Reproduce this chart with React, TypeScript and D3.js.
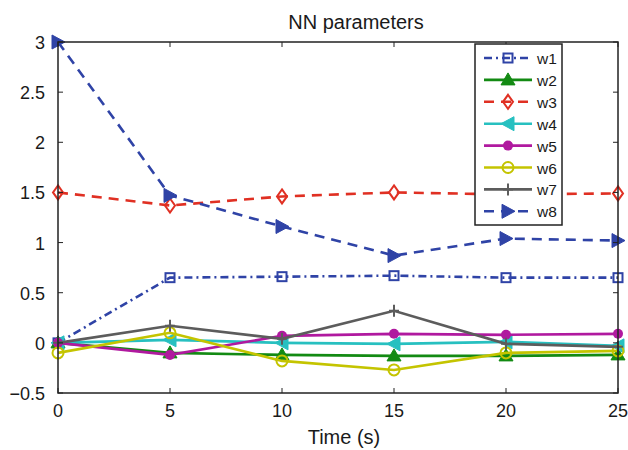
import * as d3 from "d3";

const times = [0, 5, 10, 15, 20, 25];
const w1 = [0, 0.65, 0.66, 0.67, 0.65, 0.65];
const w2 = [0, -0.1, -0.12, -0.13, -0.13, -0.12];
const w3 = [1.5, 1.37, 1.46, 1.5, 1.48, 1.49];
const w4 = [0, 0.03, 0, -0.01, 0.01, -0.03];
const w5 = [0, -0.12, 0.07, 0.09, 0.08, 0.09];
const w6 = [-0.1, 0.1, -0.18, -0.27, -0.1, -0.08];
const w7 = [0, 0.17, 0.04, 0.32, -0.01, -0.04];
const w8 = [3.0, 1.47, 1.16, 0.87, 1.04, 1.02];
const xTicks = [0, 5, 10, 15, 20, 25];
const yTicks = [-0.5, 0, 0.5, 1, 1.5, 2, 2.5, 3];

type Marker = "square" | "triUp" | "diamond" | "triLeft" | "dot" | "circle" | "plus" | "triRight";
const series: { name: string; values: number[]; color: string; dash: string; marker: Marker }[] = [
  { name: "w1", values: w1, color: "#2f43a6", dash: "8 4 2 4", marker: "square" },
  { name: "w2", values: w2, color: "#138a13", dash: "", marker: "triUp" },
  { name: "w3", values: w3, color: "#e03023", dash: "10 7", marker: "diamond" },
  { name: "w4", values: w4, color: "#27c0c0", dash: "", marker: "triLeft" },
  { name: "w5", values: w5, color: "#b0199f", dash: "", marker: "dot" },
  { name: "w6", values: w6, color: "#c4c400", dash: "", marker: "circle" },
  { name: "w7", values: w7, color: "#5c5c5c", dash: "", marker: "plus" },
  { name: "w8", values: w8, color: "#2f43a6", dash: "10 7", marker: "triRight" },
];

const W = 628, H = 450, M = { t: 42, r: 10, b: 57, l: 58 };
const FONT = "'Liberation Sans', Arial, Helvetica, sans-serif";

function MarkerShape({ kind, x, y, color }: { kind: Marker; x: number; y: number; color: string }) {
  const s = 6;
  switch (kind) {
    case "square":
      return <rect x={x - 4.5} y={y - 4.5} width={9} height={9} fill="none" stroke={color} strokeWidth={2} />;
    case "triUp":
      return <path d={`M${x},${y - s - 1}L${x + s + 1},${y + s - 1}L${x - s - 1},${y + s - 1}Z`} fill={color} stroke={color} strokeWidth={1} />;
    case "diamond":
      return <path d={`M${x},${y - 7}L${x + 5},${y}L${x},${y + 7}L${x - 5},${y}Z`} fill="none" stroke={color} strokeWidth={2} />;
    case "triLeft":
      return <path d={`M${x - s - 1},${y}L${x + s},${y - s - 1}L${x + s},${y + s + 1}Z`} fill={color} stroke={color} strokeWidth={1} />;
    case "dot":
      return <circle cx={x} cy={y} r={5} fill={color} />;
    case "circle":
      return <circle cx={x} cy={y} r={5.5} fill="none" stroke={color} strokeWidth={2} />;
    case "plus":
      return <path d={`M${x - 5},${y}L${x + 5},${y}M${x},${y - 6}L${x},${y + 6}`} stroke={color} strokeWidth={2} />;
    case "triRight":
      return <path d={`M${x + s + 1},${y}L${x - s},${y - s - 1}L${x - s},${y + s + 1}Z`} fill={color} stroke={color} strokeWidth={1} />;
  }
}

export default function App() {
  const x = d3.scaleLinear().domain([0, 25]).range([M.l, W - M.r]);
  const y = d3.scaleLinear().domain([-0.5, 3]).range([H - M.b, M.t]);
  const line = d3.line<number>().x((_, i) => x(times[i])).y(d => y(d));
  const x0 = M.l, x1 = W - M.r, y0 = H - M.b, y1 = M.t;
  const tk = 5;
  const lg = { x: 475, y: 44, w: 87, h: 181, row: 21.9 };

  return (
    <svg width={W} height={H} style={{ position: "absolute", left: 0, top: 0, background: "#fff", fontFamily: FONT }}>
      <rect x={0} y={0} width={W} height={H} fill="#fff" />
      {series.map(s => (
        <g key={s.name}>
          <path d={line(s.values) ?? ""} fill="none" stroke={s.color} strokeWidth={2.6} strokeDasharray={s.dash || undefined} />
          {s.values.map((v, i) => <MarkerShape key={i} kind={s.marker} x={x(times[i])} y={y(v)} color={s.color} />)}
        </g>
      ))}
      {/* axes box */}
      <rect x={x0} y={y1} width={x1 - x0} height={y0 - y1} fill="none" stroke="#222" strokeWidth={1.5} />
      {xTicks.map(t => (
        <g key={t}>
          <line x1={x(t)} x2={x(t)} y1={y0} y2={y0 - tk} stroke="#222" strokeWidth={1} />
          <line x1={x(t)} x2={x(t)} y1={y1} y2={y1 + tk} stroke="#222" strokeWidth={1} />
          <text x={x(t)} y={y0 + 24} textAnchor="middle" fontSize={18} fill="#1a1a1a">{t}</text>
        </g>
      ))}
      {yTicks.map(t => (
        <g key={t}>
          <line x1={x0} x2={x0 + tk} y1={y(t)} y2={y(t)} stroke="#222" strokeWidth={1} />
          <line x1={x1} x2={x1 - tk} y1={y(t)} y2={y(t)} stroke="#222" strokeWidth={1} />
          <text x={x0 - 13} y={y(t) + 7} textAnchor="end" fontSize={18} fill="#1a1a1a">{t < 0 ? "\u2212" + Math.abs(t) : t}</text>
        </g>
      ))}
      <text x={356} y={29} textAnchor="middle" fontSize={20} fill="#1a1a1a">NN parameters</text>
      <text x={344} y={444} textAnchor="middle" fontSize={20} fill="#1a1a1a">Time (s)</text>
      {/* legend */}
      <rect x={lg.x} y={lg.y} width={lg.w} height={lg.h} fill="#fff" stroke="#222" strokeWidth={1.5} />
      {series.map((s, i) => {
        const cy = lg.y + 14 + i * lg.row;
        return (
          <g key={s.name}>
            <line x1={lg.x + 9} x2={lg.x + 57} y1={cy} y2={cy} stroke={s.color} strokeWidth={2.6} strokeDasharray={s.dash || undefined} />
            <MarkerShape kind={s.marker} x={lg.x + 33} y={cy} color={s.color} />
            <text x={lg.x + 62} y={cy + 6} fontSize={15.5} fill="#1a1a1a">{s.name}</text>
          </g>
        );
      })}
    </svg>
  );
}
